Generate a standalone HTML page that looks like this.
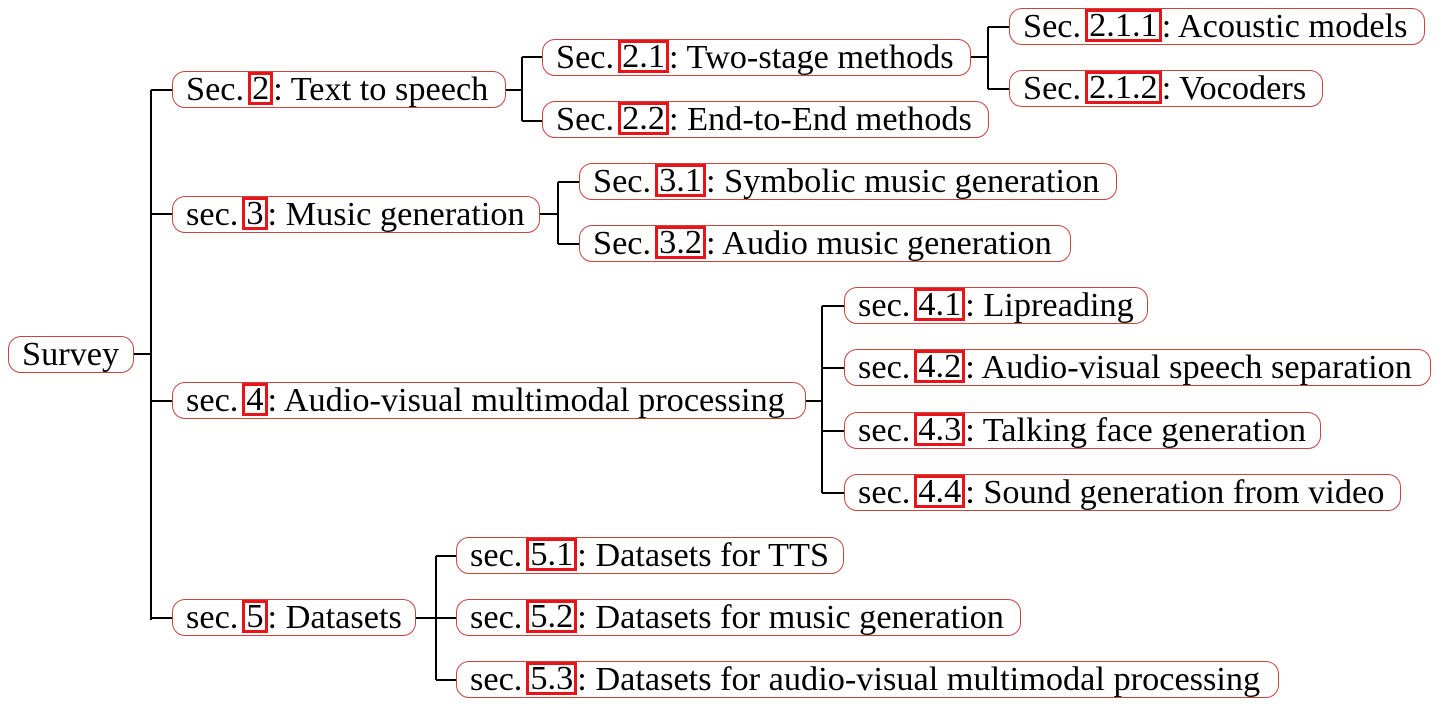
<!DOCTYPE html>
<html><head><meta charset="utf-8"><style>
html,body{margin:0;padding:0;background:#fff;}
body{width:1443px;height:713px;position:relative;overflow:hidden;font-family:"Liberation Serif",serif;}
.n{position:absolute;height:35px;border:1.5px solid #c8443f;border-radius:13px;box-sizing:content-box;font-size:34.3px;line-height:35px;white-space:nowrap;color:#000;padding-left:13px;overflow:visible;}
.b{display:inline-block;border:3px solid #e8141a;line-height:27px;height:27px;padding:0 1px;vertical-align:top;margin-top:0px;margin-left:4px;}
svg{position:absolute;left:0;top:0;}
</style></head><body>
<svg width="1443" height="713"><g stroke="#000" stroke-width="2" fill="none">
<path d="M133 354H151M151 90V620M151 90H172M151 214H172M151 401H172M151 618H172"/>
<path d="M505 90H522M522 57V121M522 57H542M522 121H542"/>
<path d="M970 57H988M988 27V89M988 27H1009M988 89H1009"/>
<path d="M539 214H558M558 182V244M558 182H579M558 244H579"/>
<path d="M805 401H822M822 306V493M822 306H844M822 368H844M822 431H844M822 493H844"/>
<path d="M415 618H436M436 556V680M436 556H456M436 618H456M436 680H456"/>
</g></svg>
<div class="n" style="left:8px;top:336px;width:111px">Survey</div>
<div class="n" style="left:172px;top:71px;width:319px">Sec.<span class="b">2</span>: Text to speech</div>
<div class="n" style="left:172px;top:196px;width:353px">sec.<span class="b">3</span>: Music generation</div>
<div class="n" style="left:172px;top:382px;width:619px">sec.<span class="b">4</span>: Audio-visual multimodal processing</div>
<div class="n" style="left:172px;top:599px;width:229px">sec.<span class="b">5</span>: Datasets</div>
<div class="n" style="left:542px;top:39px;width:414px">Sec.<span class="b">2.1</span>: Two-stage methods</div>
<div class="n" style="left:542px;top:101px;width:432px">Sec.<span class="b">2.2</span>: End-to-End methods</div>
<div class="n" style="left:1009px;top:8px;width:401px">Sec.<span class="b">2.1.1</span>: Acoustic models</div>
<div class="n" style="left:1009px;top:70px;width:299px">Sec.<span class="b">2.1.2</span>: Vocoders</div>
<div class="n" style="left:579px;top:163px;width:523px">Sec.<span class="b">3.1</span>: Symbolic music generation</div>
<div class="n" style="left:579px;top:225px;width:477px">Sec.<span class="b">3.2</span>: Audio music generation</div>
<div class="n" style="left:844px;top:287px;width:289px">sec.<span class="b">4.1</span>: Lipreading</div>
<div class="n" style="left:844px;top:349px;width:572px">sec.<span class="b">4.2</span>: Audio-visual speech separation</div>
<div class="n" style="left:844px;top:412px;width:462px">sec.<span class="b">4.3</span>: Talking face generation</div>
<div class="n" style="left:844px;top:474px;width:542px">sec.<span class="b">4.4</span>: Sound generation from video</div>
<div class="n" style="left:456px;top:537px;width:373px">sec.<span class="b">5.1</span>: Datasets for TTS</div>
<div class="n" style="left:456px;top:599px;width:550px">sec.<span class="b">5.2</span>: Datasets for music generation</div>
<div class="n" style="left:456px;top:661px;width:808px">sec.<span class="b">5.3</span>: Datasets for audio-visual multimodal processing</div>
</body></html>
